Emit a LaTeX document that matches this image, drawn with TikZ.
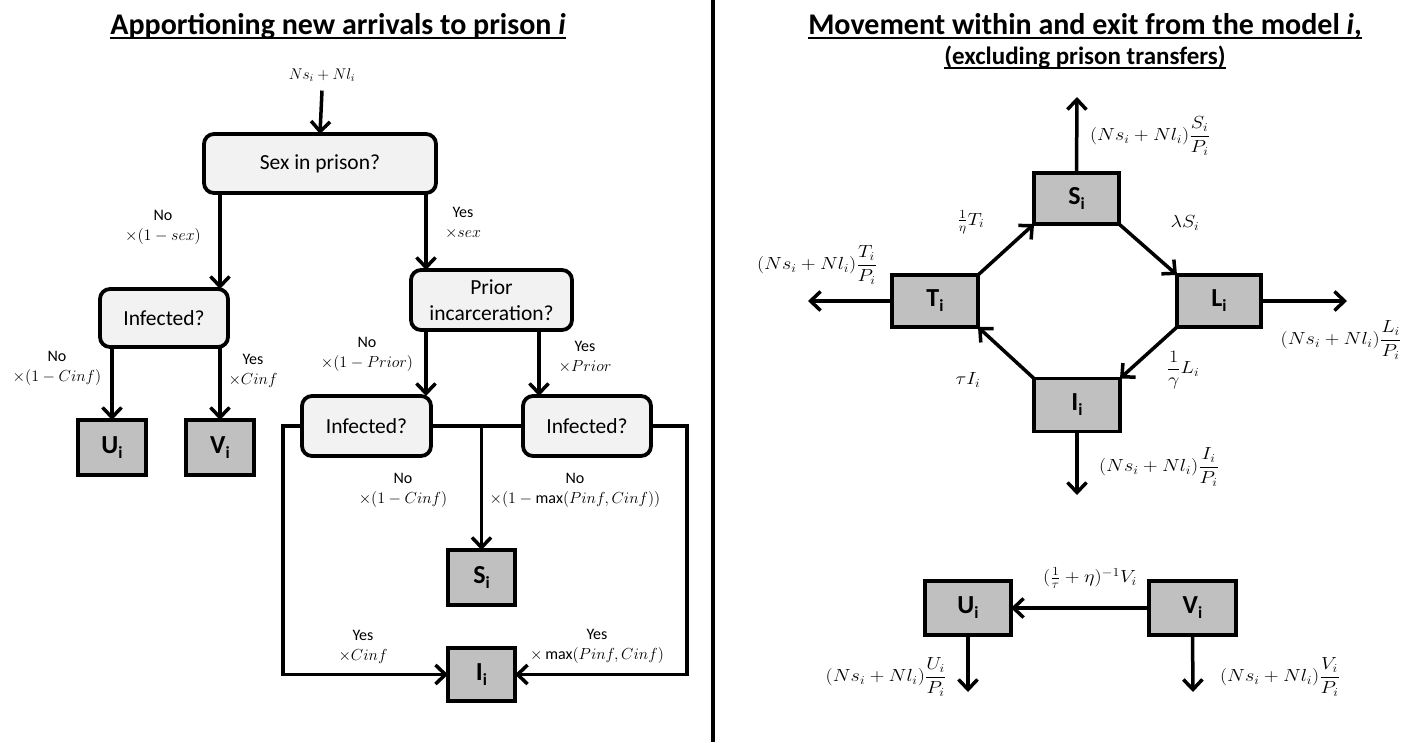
\RequirePackage{fix-cm}
\documentclass[tikz,border=0pt]{standalone}
\usepackage{amsmath}
\usepackage{graphicx}
\usepackage{fontspec}
\setmainfont{Carlito}
\usetikzlibrary{arrows.meta,calc}
\definecolor{boxgray}{RGB}{192,192,192}
\definecolor{decfill}{RGB}{242,242,242}
\newcommand\cmp[1]{{\fontsize{26}{30}\selectfont\bfseries #1\raisebox{-5pt}{\fontsize{17}{20}\selectfont i}}}
\newcommand\wm[1]{\scalebox{1.15}[1]{$#1$}}
\begin{document}
\begin{tikzpicture}[x=1pt,y=-1pt,
  every node/.style={inner sep=0pt,outer sep=0pt},
  comp/.style={draw,line width=3.8pt,fill=boxgray},
  decision/.style={draw,line width=3.8pt,fill=decfill,rounded corners=10pt,align=center,font=\fontsize{21.5}{26}\selectfont},
  lbl/.style={align=center,font=\fontsize{16}{20}\selectfont},
  mth/.style={font=\fontsize{17.5}{21}\selectfont},
  arr/.style={line width=3.5pt,-{Straight Barb[length=10pt,width=19pt]}},
  ln/.style={line width=3.5pt},
  titlef/.style={font=\fontsize{30}{34}\selectfont\bfseries},
  subtitlef/.style={font=\fontsize{25}{28}\selectfont\bfseries},
  uline/.style={line width=2pt}]
\fill[white] (0,0) rectangle (1413,742);
\useasboundingbox (0,0) rectangle (1413,742);

% divider
\coordinate (dtop) at (713,0);
\coordinate (dbot) at (713,742);
\draw[line width=4.5pt] (dtop) -- (dbot);

% titles
\node[titlef,anchor=base] (t1) at (338,34) {Apportioning new arrivals to prison \textit{i}};
\draw[uline] ([yshift=-3.5pt]t1.base west) -- ([yshift=-3.5pt]t1.base east);
\node[titlef,anchor=base] (t2) at (1085,34) {Movement within and exit from the model \textit{i},};
\draw[uline] ([yshift=-3.5pt]t2.base west) -- ([yshift=-3.5pt]t2.base east);
\node[subtitlef,anchor=base] (t3) at (1085,64) {(excluding prison transfers)};
\draw[uline] ([yshift=-3.5pt]t3.base west) -- ([yshift=-3.5pt]t3.base east);

% ---------------- left flowchart ----------------
\node[font=\fontsize{15.5}{19}\selectfont] (src) at (322,75) {$Ns_i+Nl_i$};
\node[decision,minimum width=232,minimum height=59] (sex) at (320,163.5) {Sex in prison?};
\node[decision,minimum width=128,minimum height=58] (infL) at (164,318) {Infected?};
\node[comp,minimum width=68,minimum height=55] (U) at (112,447.5) {\cmp{U}};
\node[comp,minimum width=68,minimum height=55] (V) at (220,447.5) {\cmp{V}};
\node[decision,minimum width=161,minimum height=60] (prior) at (491.5,300) {Prior\\incarceration?};
\node[decision,minimum width=129,minimum height=60] (infM) at (366.5,426) {Infected?};
\node[decision,minimum width=128,minimum height=60] (infR) at (587,426) {Infected?};
\node[comp,minimum width=67,minimum height=55] (S) at (481.5,577.5) {\cmp{S}};
\node[comp,minimum width=67,minimum height=53] (I) at (481.5,674.5) {\cmp{I}};

\coordinate (xa) at (220,0);
\coordinate (xb) at (426,0);
\coordinate (xc) at (539,0);
\coordinate (xl) at (283,0);
\coordinate (xr) at (687,0);

\draw[arr] ([yshift=-9pt]src.south) -- (sex.north);
\draw[arr] (sex.south -| xa) -- (infL.north -| xa);
\draw[arr] (sex.south -| xb) -- (prior.north -| xb);
\draw[arr] (infL.south -| U) -- (U.north);
\draw[arr] (infL.south -| V) -- (V.north);
\draw[arr] (prior.south -| xb) -- (infM.north -| xb);
\draw[arr] (prior.south -| xc) -- (infR.north -| xc);
\draw[ln] (infM.east) -- (infR.west);
\draw[arr] (infM.east -| S) -- (S.north);
\draw[arr] (infM.west) -- (infM.west -| xl) |- (I.west);
\draw[arr] (infR.east) -- (infR.east -| xr) |- (I.east);

\node[lbl] (l1) at (163,227) {No\\$\times(1-sex)$};
\node[lbl] (l2) at (463,223) {Yes\\$\times sex$};
\node[lbl] (l3) at (57,368) {No\\$\times(1-Cinf)$};
\node[lbl] (l4) at (253,371) {Yes\\$\times Cinf$};
\node[lbl] (l5) at (367,354) {No\\$\times(1-Prior)$};
\node[lbl] (l6) at (585,357) {Yes\\$\times Prior$};
\node[lbl] (l7) at (403,490) {No\\$\times(1-Cinf)$};
\node[lbl] (l8) at (575,490) {No\\$\times(1-\max(Pinf,Cinf))$};
\node[lbl] (l9) at (363,647) {Yes\\$\times Cinf$};
\node[lbl] (l10) at (597,646) {Yes\\$\times\max(Pinf,Cinf)$};

% ---------------- right diagram ----------------
\node[comp,minimum width=85,minimum height=51] (S2) at (1076.5,198.5) {\cmp{S}};
\node[comp,minimum width=86,minimum height=52] (T2) at (935,301) {\cmp{T}};
\node[comp,minimum width=84,minimum height=52] (L2) at (1219,301) {\cmp{L}};
\node[comp,minimum width=86,minimum height=53] (I2) at (1077,405) {\cmp{I}};
\node[comp,minimum width=86,minimum height=54] (U2) at (968,608) {\cmp{U}};
\node[comp,minimum width=87,minimum height=54] (V2) at (1192.5,608) {\cmp{V}};

\coordinate (eS) at (1077,97);
\coordinate (eT) at (808,301);
\coordinate (eL) at (1347,301);
\coordinate (eI) at (1077,495);
\coordinate (eU) at (968,692);
\coordinate (eV) at (1193,692);

\draw[arr] (S2.north) -- (eS);
\draw[arr] (T2.west) -- (eT);
\draw[arr] (L2.east) -- (eL);
\draw[arr] (I2.south) -- (eI);
\draw[arr] (U2.south) -- (eU);
\draw[arr] (V2.south) -- (eV);
\draw[arr] (T2.north east) -- (S2.south west);
\draw[arr] (S2.south east) -- (L2.north west);
\draw[arr] (L2.south west) -- (I2.north east);
\draw[arr] (I2.north west) -- (T2.south east);
\draw[arr] (V2.west) -- (U2.east);

\node[mth] (m1) at (1150,136) {\wm{(Ns_i+Nl_i)\dfrac{S_i}{P_i}}};
\node[mth] (m2) at (817,265) {\wm{(Ns_i+Nl_i)\dfrac{T_i}{P_i}}};
\node[mth] (m3) at (1341,340) {\wm{(Ns_i+Nl_i)\dfrac{L_i}{P_i}}};
\node[mth] (m4) at (1159,467) {\wm{(Ns_i+Nl_i)\dfrac{I_i}{P_i}}};
\node[mth] (m5) at (886,677) {\wm{(Ns_i+Nl_i)\dfrac{U_i}{P_i}}};
\node[mth] (m6) at (1280,677) {\wm{(Ns_i+Nl_i)\dfrac{V_i}{P_i}}};
\node[mth] (m7) at (1185,223) {\wm{\lambda S_i}};
\node[mth] (m8) at (1183,370) {\wm{\dfrac{1}{\gamma}L_i}};
\node[mth] (m9) at (971,222) {\wm{\tfrac{1}{\eta}T_i}};
\node[mth] (m10) at (968,380) {\wm{\tau I_i}};
\node[mth] (m11) at (1090,578) {\wm{(\tfrac{1}{\tau}+\eta)^{-1}V_i}};
\end{tikzpicture}
\end{document}
